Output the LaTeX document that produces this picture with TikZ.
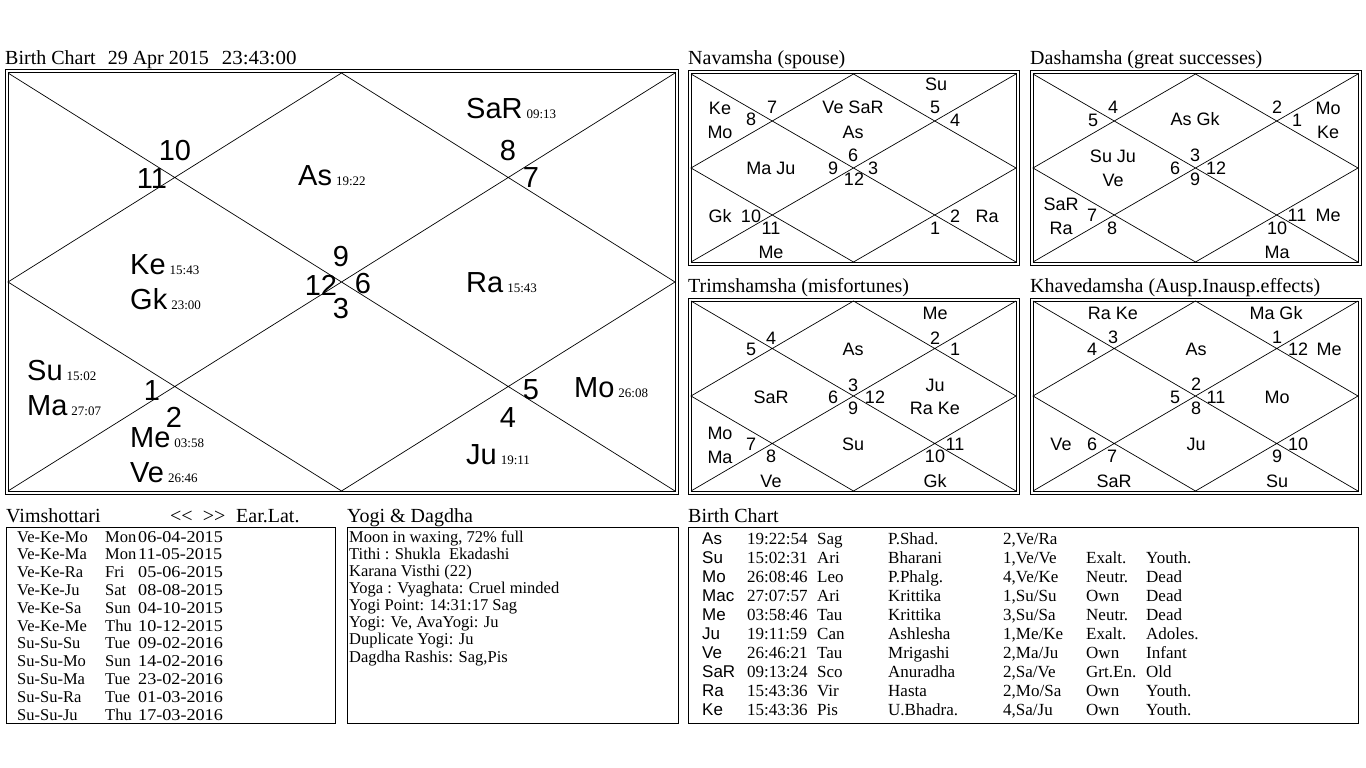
\documentclass[tikz,border=0pt]{standalone}
\usepackage{fontspec}
\setmainfont{Liberation Serif}
\newfontfamily\arial{Liberation Sans}
\newcommand\myfs[1]{\fontsize{#1}{#1}\selectfont}
\tikzset{
 frame/.style={line width=1pt},
 diag/.style={line width=0.7pt},
 hnum/.style={anchor=base, inner sep=0, font={\arial\myfs{29}}},
 plab/.style={anchor=base west, inner sep=0},
 lbl/.style={inner sep=0, font={\arial\myfs{18}}, text height=13pt, text depth=0pt, anchor=center},
 ttl/.style={anchor=base west, inner sep=0, font={\myfs{20}}},
 tb/.style={anchor=base west, inner sep=0, font={\myfs{17}}},
 vt/.style={anchor=base west, inner sep=0, font={\myfs{16.5}}},
}
\newcommand\smallframe[2]{%
 \draw[frame] (-3,-3) rectangle (328,#2+3);
 \draw[frame] (0,0) rectangle (325,#2);
 \coordinate (#1tl) at (0,0); \coordinate (#1tr) at (325,0);
 \coordinate (#1bl) at (0,#2); \coordinate (#1br) at (325,#2);
 \coordinate (#1t) at (162.5,0); \coordinate (#1b) at (162.5,#2);
 \coordinate (#1l) at (0,#2/2); \coordinate (#1r) at (325,#2/2);
 \draw[diag] (#1tl) -- (#1br) (#1tr) -- (#1bl) (#1t) -- (#1r) -- (#1b) -- (#1l) -- cycle;}
\newcommand\mainplanet[5]{\node[plab] (#1) at (#2,#3) {\arial\myfs{29}#4\hspace{4pt}\rmfamily\myfs{13}#5};}
\newcommand\vrow[4]{%
 \node[vt] (v#1a) at (17,{542+17.8*#1}) {#2};
 \node[vt] (v#1b) at (105,{542+17.8*#1}) {#3};
 \node[vt] (v#1c) at (138,{542+17.8*#1}) {\scalebox{1.1}[1]{#4}};}
\newcommand\brow[8]{%
 \node[tb,font={\arial\myfs{17}}] (b#1a) at (702,{544+19*#1}) {#2};
 \node[tb] (b#1b) at (747,{544+19*#1}) {#3};
 \node[tb] (b#1c) at (817,{544+19*#1}) {#4};
 \node[tb] (b#1d) at (888,{544+19*#1}) {#5};
 \node[tb] (b#1e) at (1003,{544+19*#1}) {#6};
 \node[tb] (b#1f) at (1086,{544+19*#1}) {#7};
 \node[tb] (b#1g) at (1146,{544+19*#1}) {#8};}
\begin{document}
\begin{tikzpicture}[x=1pt,y=-1pt]
\useasboundingbox[fill=white] (0,0) rectangle (1366,768);

% ---------------- Main chart
\node[ttl] (mainttl) at (5,65) {Birth Chart\hspace{12pt}29 Apr 2015\hspace{13pt}\scalebox{1.05}[1]{23:43:00}};
\draw[frame] (5,70) rectangle (678,494);
\draw[frame] (8,73) rectangle (675,491);
\coordinate (mtl) at (8,73); \coordinate (mtr) at (675,73);
\coordinate (mbl) at (8,491); \coordinate (mbr) at (675,491);
\coordinate (mt) at (341.5,73); \coordinate (mb) at (341.5,491);
\coordinate (ml) at (8,282); \coordinate (mr) at (675,282);
\draw[diag] (mtl) -- (mbr) (mtr) -- (mbl) (mt) -- (mr) -- (mb) -- (ml) -- cycle;

\node[hnum] (h10) at (175,160) {10};
\node[hnum] (h11) at (152,188) {11};
\node[hnum] (h8) at (508,160) {8};
\node[hnum] (h7) at (531,187) {7};
\node[hnum] (h9) at (341,266) {9};
\node[hnum] (h12) at (321,295) {12};
\node[hnum] (h6) at (363,293) {6};
\node[hnum] (h3) at (341,318) {3};
\node[hnum] (h1) at (152,400) {1};
\node[hnum] (h2) at (174,427) {2};
\node[hnum] (h5) at (531,399) {5};
\node[hnum] (h4) at (508,427) {4};

\mainplanet{pSaR}{466}{118}{SaR}{09:13}
\mainplanet{pAs}{298}{185}{As}{19:22}
\mainplanet{pKe}{130}{274}{Ke}{15:43}
\mainplanet{pGk}{130}{309}{Gk}{23:00}
\mainplanet{pRa}{466}{292}{Ra}{15:43}
\mainplanet{pSu}{27}{380}{Su}{15:02}
\mainplanet{pMa}{27}{415}{Ma}{27:07}
\mainplanet{pMe}{130}{447}{Me}{03:58}
\mainplanet{pVe}{130}{482}{Ve}{26:46}
\mainplanet{pMo}{574}{397}{Mo}{26:08}
\mainplanet{pJu}{466}{464}{Ju}{19:11}

% ---------------- Navamsha
\node[ttl] (navttl) at (688,65) {Navamsha (spouse)};
\begin{scope}[shift={(691,74)}]
\smallframe{nv}{188}
\node[lbl] (nvSu) at (245,10) {Su};
\node[lbl] (nvKe) at (29,34) {Ke};
\node[lbl] (nvMo) at (29,58) {Mo};
\node[lbl] (nv7) at (81,33) {7};
\node[lbl] (nv8) at (60,45) {8};
\node[lbl] (nvVe) at (162,33) {Ve SaR};
\node[lbl] (nvAs) at (162,58) {As};
\node[lbl] (nv5) at (244,33) {5};
\node[lbl] (nv4) at (264,46) {4};
\node[lbl] (nvMa) at (80,94) {Ma Ju};
\node[lbl] (nv6) at (162,81) {6};
\node[lbl] (nv9) at (142,94) {9};
\node[lbl] (nv3) at (182,94) {3};
\node[lbl] (nv12) at (163,105) {12};
\node[lbl] (nvGk) at (29,142) {Gk};
\node[lbl] (nv10) at (60,142) {10};
\node[lbl] (nv11) at (80,154) {11};
\node[lbl] (nvMe) at (80,178) {Me};
\node[lbl] (nv1) at (244,154) {1};
\node[lbl] (nv2) at (264,142) {2};
\node[lbl] (nvRa) at (296,142) {Ra};
\end{scope}

% ---------------- Dashamsha
\node[ttl] (dasttl) at (1030,65) {Dashamsha (great successes)};
\begin{scope}[shift={(1033,74)}]
\smallframe{ds}{188}
\node[lbl] (ds4) at (80,33) {4};
\node[lbl] (ds5) at (60,46) {5};
\node[lbl] (dsAs) at (162,45) {As Gk};
\node[lbl] (ds2) at (244,33) {2};
\node[lbl] (ds1) at (264,46) {1};
\node[lbl] (dsMo) at (295,34) {Mo};
\node[lbl] (dsKe) at (295,58) {Ke};
\node[lbl] (dsSu) at (80,82) {Su Ju};
\node[lbl] (dsVe) at (80,106) {Ve};
\node[lbl] (ds3) at (162,81) {3};
\node[lbl] (ds6) at (142,94) {6};
\node[lbl] (ds12) at (183,94) {12};
\node[lbl] (ds9) at (162,105) {9};
\node[lbl] (dsSaR) at (28,130) {SaR};
\node[lbl] (dsRa) at (28,154) {Ra};
\node[lbl] (ds7) at (59,141) {7};
\node[lbl] (ds8) at (79,154) {8};
\node[lbl] (ds10) at (244,154) {10};
\node[lbl] (ds11) at (264,141) {11};
\node[lbl] (dsMe) at (295,141) {Me};
\node[lbl] (dsMa) at (244,178) {Ma};
\end{scope}

% ---------------- Trimshamsha
\node[ttl] (trittl) at (688,292) {Trimshamsha (misfortunes)};
\begin{scope}[shift={(691,301)}]
\smallframe{tr}{190}
\node[lbl] (trMe) at (244,12) {Me};
\node[lbl] (tr4) at (80,37) {4};
\node[lbl] (tr5) at (60,48) {5};
\node[lbl] (trAs) at (162,48) {As};
\node[lbl] (tr2) at (244,37) {2};
\node[lbl] (tr1) at (264,48) {1};
\node[lbl] (trSaR) at (80,96) {SaR};
\node[lbl] (tr3) at (162,84) {3};
\node[lbl] (tr6) at (142,96) {6};
\node[lbl] (tr12) at (184,96) {12};
\node[lbl] (tr9) at (162,107) {9};
\node[lbl] (trJu) at (244,84) {Ju};
\node[lbl] (trRa) at (244,107) {Ra Ke};
\node[lbl] (trMo) at (29,132) {Mo};
\node[lbl] (trMa) at (29,156) {Ma};
\node[lbl] (tr7) at (60,143) {7};
\node[lbl] (tr8) at (80,155) {8};
\node[lbl] (trVe) at (80,180) {Ve};
\node[lbl] (trSu) at (162,143) {Su};
\node[lbl] (tr11) at (264,143) {11};
\node[lbl] (tr10) at (244,155) {10};
\node[lbl] (trGk) at (244,180) {Gk};
\end{scope}

% ---------------- Khavedamsha
\node[ttl] (khttl) at (1030,292) {Khavedamsha (Ausp.Inausp.effects)};
\begin{scope}[shift={(1033,301)}]
\smallframe{kh}{190}
\node[lbl] (khRa) at (80,12) {Ra Ke};
\node[lbl] (khMa) at (243,12) {Ma Gk};
\node[lbl] (kh3) at (80,36) {3};
\node[lbl] (kh4) at (59,48) {4};
\node[lbl] (khAs) at (163,48) {As};
\node[lbl] (kh1) at (244,36) {1};
\node[lbl] (kh12) at (265,48) {12};
\node[lbl] (khMe) at (296,48) {Me};
\node[lbl] (kh2) at (163,83) {2};
\node[lbl] (kh5) at (142,96) {5};
\node[lbl] (kh11) at (183,96) {11};
\node[lbl] (kh8) at (163,107) {8};
\node[lbl] (khMo) at (244,96) {Mo};
\node[lbl] (khVe) at (28,143) {Ve};
\node[lbl] (kh6) at (59,143) {6};
\node[lbl] (kh7) at (79,155) {7};
\node[lbl] (khSaR) at (81,180) {SaR};
\node[lbl] (khJu) at (163,143) {Ju};
\node[lbl] (kh10) at (265,143) {10};
\node[lbl] (kh9) at (244,155) {9};
\node[lbl] (khSu) at (244,180) {Su};
\end{scope}

% ---------------- Vimshottari
\node[ttl] (vimttl) at (6,522) {Vimshottari};
\node[ttl] (vimnav) at (170,522) {<{}<~ >{}>};
\node[ttl] (vimear) at (236,522) {Ear.Lat.};
\draw[frame] (6,527) rectangle (335,723);
\vrow{0}{Ve-Ke-Mo}{Mon}{06-04-2015}
\vrow{1}{Ve-Ke-Ma}{Mon}{11-05-2015}
\vrow{2}{Ve-Ke-Ra}{Fri}{05-06-2015}
\vrow{3}{Ve-Ke-Ju}{Sat}{08-08-2015}
\vrow{4}{Ve-Ke-Sa}{Sun}{04-10-2015}
\vrow{5}{Ve-Ke-Me}{Thu}{10-12-2015}
\vrow{6}{Su-Su-Su}{Tue}{09-02-2016}
\vrow{7}{Su-Su-Mo}{Sun}{14-02-2016}
\vrow{8}{Su-Su-Ma}{Tue}{23-02-2016}
\vrow{9}{Su-Su-Ra}{Tue}{01-03-2016}
\vrow{10}{Su-Su-Ju}{Thu}{17-03-2016}

% ---------------- Yogi & Dagdha
\node[ttl] (yogttl) at (347,522) {Yogi \& Dagdha};
\draw[frame] (347,527) rectangle (678,723);
\node[vt] (y0) at (349,542) {Moon in waxing, 72\% full};
\node[vt] (y1) at (349,559.1) {Tithi : Shukla~ Ekadashi};
\node[vt] (y2) at (349,576.3) {Karana Visthi (22)};
\node[vt] (y3) at (349,593.4) {Yoga : Vyaghata: Cruel minded};
\node[vt] (y4) at (349,610.6) {Yogi Point: 14:31:17 Sag};
\node[vt] (y5) at (349,627.7) {Yogi: Ve, AvaYogi: Ju};
\node[vt] (y6) at (349,644.8) {Duplicate Yogi: Ju};
\node[vt] (y7) at (349,662) {Dagdha Rashis: Sag,Pis};

% ---------------- Birth Chart table
\node[ttl] (bcttl) at (688,522) {Birth Chart};
\draw[frame] (688,527) rectangle (1358,723);
\brow{0}{As}{19:22:54}{Sag}{P.Shad.}{2,Ve/Ra}{}{}
\brow{1}{Su}{15:02:31}{Ari}{Bharani}{1,Ve/Ve}{Exalt.}{Youth.}
\brow{2}{Mo}{26:08:46}{Leo}{P.Phalg.}{4,Ve/Ke}{Neutr.}{Dead}
\brow{3}{Mac}{27:07:57}{Ari}{Krittika}{1,Su/Su}{Own}{Dead}
\brow{4}{Me}{03:58:46}{Tau}{Krittika}{3,Su/Sa}{Neutr.}{Dead}
\brow{5}{Ju}{19:11:59}{Can}{Ashlesha}{1,Me/Ke}{Exalt.}{Adoles.}
\brow{6}{Ve}{26:46:21}{Tau}{Mrigashi}{2,Ma/Ju}{Own}{Infant}
\brow{7}{SaR}{09:13:24}{Sco}{Anuradha}{2,Sa/Ve}{Grt.En.}{Old}
\brow{8}{Ra}{15:43:36}{Vir}{Hasta}{2,Mo/Sa}{Own}{Youth.}
\brow{9}{Ke}{15:43:36}{Pis}{U.Bhadra.}{4,Sa/Ju}{Own}{Youth.}
\end{tikzpicture}
\end{document}
